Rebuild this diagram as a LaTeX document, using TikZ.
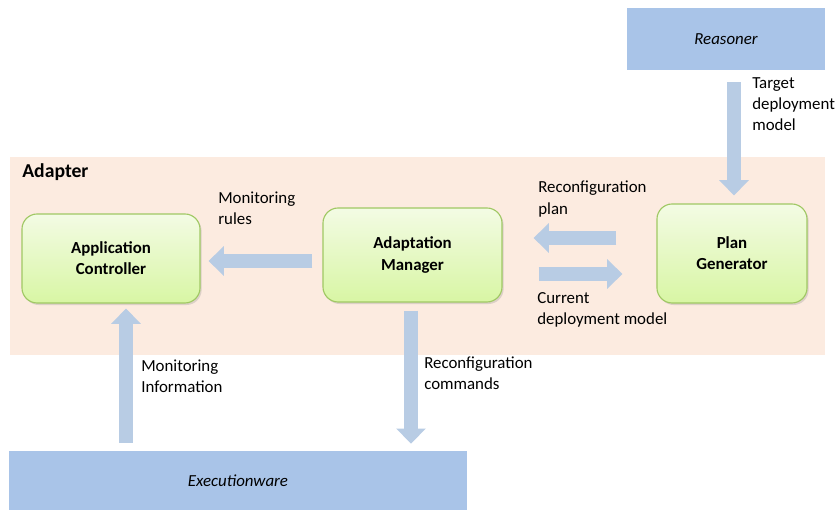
\documentclass[tikz,border=0pt]{standalone}
\usepackage{fontspec}
\setmainfont{Carlito}
\usetikzlibrary{arrows.meta,shadows}

\definecolor{adaptbg}{RGB}{252,235,224}
\definecolor{blockblue}{RGB}{169,196,232}
\definecolor{flowblue}{RGB}{184,204,228}
\definecolor{boxedge}{RGB}{160,200,100}
\definecolor{boxtop}{RGB}{243,251,228}
\definecolor{boxbot}{RGB}{216,246,164}

\newcommand{\txt}{\fontsize{12}{15}\selectfont}

\tikzset{
  comp/.style={draw=boxedge, line width=0.8pt, rounded corners=0.38cm,
    top color=boxtop, bottom color=boxbot, align=center,
    font=\txt\bfseries, drop shadow={opacity=0.25, shadow xshift=0.04cm, shadow yshift=-0.05cm}},
  outer/.style={fill=blockblue, font=\txt\itshape},
  fat/.style={draw=flowblue, line width=0.33cm,
    -{Triangle[width=0.72cm, length=0.38cm]}},
  lbl/.style={anchor=west, align=left, inner sep=0pt, font=\txt}
}

\begin{document}
\begin{tikzpicture}[x=0.025cm, y=-0.025cm]
  \useasboundingbox (0,0) rectangle (837,510);
  % adapter area
  \fill[adaptbg] (10,157) rectangle (825,355);
  \node[lbl, font=\fontsize{14}{17}\selectfont\bfseries] (adapter) at (22,172) {Adapter};

  % components
  \node[comp, minimum width=4.45cm, minimum height=2.225cm] (ctrl) at (111,258.5) {Application\\Controller};
  \node[comp, minimum width=4.475cm, minimum height=2.35cm] (mgr) at (412.5,255) {Adaptation\\Manager};
  \node[comp, minimum width=3.75cm, minimum height=2.475cm] (plan) at (732,253.5) {Plan\\Generator};
  \node[outer, minimum width=4.95cm, minimum height=1.55cm] (reasoner) at (726,39) {Reasoner};
  \node[outer, minimum width=11.45cm, minimum height=1.475cm] (exec) at (238,480.5) {Executionware};

  % flows
  \draw[fat, shorten <=0.25cm, shorten >=0.2cm] (mgr.west |- 0,261) -- (ctrl.east |- 0,261);
  \draw[fat, shorten <=1cm, shorten >=0.775cm] (plan.west |- 0,238) -- (mgr.east |- 0,238);
  \draw[fat, shorten <=0.9cm, shorten >=0.85cm] (mgr.east |- 0,274) -- (plan.west |- 0,274);
  \draw[fat, shorten <=0.3cm, shorten >=0.2cm] (reasoner.south -| 734,0) -- (plan.north -| 734,0);
  \draw[fat, shorten <=0.2cm, shorten >=0.125cm] (exec.north -| 126,0) -- (ctrl.south -| 126,0);
  \draw[fat, shorten <=0.2cm, shorten >=0.175cm] (mgr.south -| 411,0) -- (exec.north -| 411,0);

  % labels
  \node[lbl] (rules) at (218,208.5) {Monitoring\\rules};
  \node[lbl] (planlbl) at (538,199) {Reconfiguration\\plan};
  \node[lbl] (current) at (537,310) {Current\\deployment model};
  \node[lbl] (target) at (752,104) {Target\\deployment\\model};
  \node[lbl] (info) at (141,376) {Monitoring\\Information};
  \node[lbl] (cmds) at (424,373.5) {Reconfiguration\\commands};
\end{tikzpicture}
\end{document}
